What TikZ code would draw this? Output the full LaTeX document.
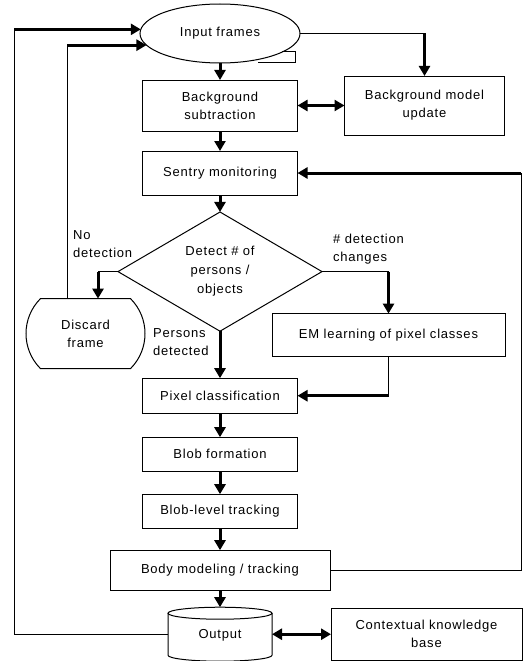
\documentclass[tikz,border=0pt]{standalone}
\usepackage{fontspec}
\setmainfont{Liberation Sans}[LetterSpace=6]
\usetikzlibrary{arrows.meta,positioning,shapes}
\tikzset{
    %Define standard arrow tip
    >={Triangle[length=10pt,width=11pt]},
    %Define style for boxes
    process/.style={
   	rectangle,
   	draw=black, line width=1pt,
   	minimum width=155pt,
   	minimum height=35pt,
   	inner sep=0pt, outer sep=0pt,
   	font=\fontsize{13}{18}\selectfont,
   	align=center
   },
   tape/.style={
   	ellipse,
   	draw=black, line width=1pt,
   	minimum width=160pt,
   	minimum height=59pt,
   	inner sep=0pt, outer sep=0pt,
   	font=\fontsize{13}{18}\selectfont
   },
   decision/.style={
   	diamond,
   	draw=black, line width=1pt,
   	minimum width=204pt,
   	minimum height=118pt,
   	inner sep=0pt, outer sep=0pt,
   	font=\fontsize{13}{19}\selectfont,
   	align=center
   },
   discard/.style={
   	rounded rectangle,
   	rounded rectangle arc length=90,
   	draw=black, line width=1pt,
   	minimum width=119pt,
   	minimum height=70pt,
   	inner sep=0pt, outer sep=0pt,
   	font=\fontsize{13}{18}\selectfont,
   	align=center
   },
   store/.style={
   	rectangle,
   	minimum width=104pt,
   	minimum height=54pt,
   	inner sep=0pt, outer sep=0pt,
   	text depth=-6pt,
   	font=\fontsize{13}{18}\selectfont
   },
   lbl/.style={
   	anchor=west,
   	inner sep=0pt,
   	font=\fontsize{13}{18}\selectfont,
   	align=left
   },
    % Define arrow style
    pil/.style={
           ->,
           line width=3pt},
    wire/.style={
           line width=1pt}
}
\begin{document}
\begin{tikzpicture}[x=1pt,y=-1pt]
		\useasboundingbox (0,0) rectangle (524,661);
		\node[tape] (1) at (220,33.5) {Input frames};
		\node[process, minimum height=51pt, below=17pt of 1] (2) {Background\\subtraction};
		\node[process, minimum width=160pt, minimum height=59pt, right=47pt of 2] (3) {Background model\\update};
		\node[process, minimum height=44pt, below=20pt of 2] (4) {Sentry monitoring};
		\node[decision, below=17pt of 4] (5) {Detect \# of\\persons /\\objects};
		\node[discard, left=-27pt of 5, yshift=-62pt] (6) {Discard\\frame};
		\node[process, minimum width=233pt, minimum height=43pt, right=-50pt of 5, yshift=-63.5pt] (7) {EM learning of pixel classes};
		\node[process, below=47pt of 5] (8) {Pixel classification};
		\node[process, minimum height=34pt, below=24pt of 8] (9) {Blob formation};
		\node[process, minimum height=34pt, below=23pt of 9] (10) {Blob-level tracking};
		\node[process, minimum width=220pt, minimum height=40pt, below=22pt of 10] (11) {Body modeling / tracking};
		\node[store, below=17pt of 11] (12) {Output};
		\node[process, minimum width=191pt, minimum height=52pt, right=59pt of 12] (13) {Contextual knowledge\\base};
		\node[lbl] (14) at ([shift={(-45,-28)}]5.west) {No\\detection};
		\node[lbl] (15) at ([shift={(11,-22)}]5.east) {\# detection\\changes};
		\node[lbl] (16) at ([shift={(-67,11)}]5.south) {Persons\\detected};
		% tape tail
		\draw[wire] ([shift={(62,18.5)}]1.center) -- ([shift={(75,18.5)}]1.center)
			-- ([shift={(75,29.5)}]1.center) -- ([shift={(38,29.5)}]1.center);
		% output drum
		\draw[wire] ([yshift=-6pt]12.north) ellipse[x radius=52pt, y radius=6pt];
		\draw[wire] ([yshift=-6pt]12.north west) -- ([yshift=6pt]12.south west)
			arc[start angle=180, end angle=360, x radius=52pt, y radius=6pt]
			-- ([yshift=-6pt]12.north east);
		% main flow
		\draw[pil] (1) -- (2);
		\draw[pil] (2) -- (4);
		\draw[pil] (4) -- (5);
		\draw[pil] (5) -- (8);
		\draw[pil] (8) -- (9);
		\draw[pil] (9) -- (10);
		\draw[pil] (10) -- (11);
		\draw[pil] (11) -- (12);
		\draw[pil,<->] (2.east) -- (2.east -| 3.west);
		\draw[pil,<->] (12.east) -- (12.east -| 13.west);
		% side branches
		\coordinate (c1) at (1.east -| 3.north);
		\draw[wire] (1.east) -- (c1);
		\draw[pil] (c1) -- (3.north);
		\coordinate (d) at ([xshift=12.5pt]6.north);
		\coordinate (c2) at (d |- 5.west);
		\draw[wire] (5.west) -- (c2);
		\draw[pil] (c2) -- (d);
		\coordinate (c3) at (5.east -| 7.north);
		\draw[wire] (5.east) -- (c3);
		\draw[pil] (c3) -- (7.north);
		\coordinate (c4) at (7.south |- 8.east);
		\draw[wire] (7.south) -- (c4);
		\draw[pil] (c4) -- (8.east);
		% feedback loops
		\coordinate (c5) at ([xshift=191pt]11.east);
		\draw[wire] (11.east) -- (c5) -- (c5 |- 4.east);
		\draw[pil] (c5 |- 4.east) -- (4.east);
		\coordinate (c6) at ([xshift=-154pt]12.west);
		\draw[wire] (12.west) -- (c6) -- (c6 |- 1.177);
		\draw[pil] (c6 |- 1.177) -- (1.177);
		\coordinate (c7) at ([xshift=-18.5pt]6.north);
		\draw[wire] (c7) -- (c7 |- 1.189);
		\draw[pil] (c7 |- 1.189) -- (1.189);
\end{tikzpicture}
\end{document}
